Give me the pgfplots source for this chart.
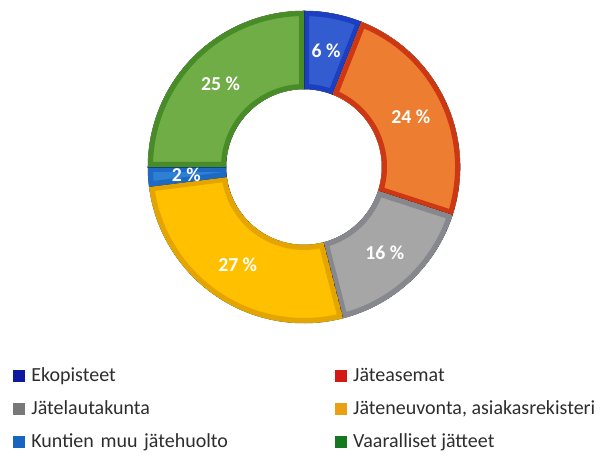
\documentclass[border=0pt]{standalone}
\usepackage{pgfplots}
\pgfplotsset{compat=1.18}
\usepackage{fontspec}
\setmainfont{Carlito}

% segment fills and borders
\definecolor{f0}{RGB}{50,92,208}
\definecolor{b0}{RGB}{28,62,192}
\definecolor{f1}{RGB}{237,125,49}
\definecolor{b1}{RGB}{205,55,20}
\definecolor{f2}{RGB}{166,166,166}
\definecolor{b2}{RGB}{134,136,142}
\definecolor{f3}{RGB}{255,192,0}
\definecolor{b3}{RGB}{228,165,0}
\definecolor{f4}{RGB}{45,128,210}
\definecolor{b4}{RGB}{30,105,195}
\definecolor{f5}{RGB}{112,173,71}
\definecolor{b5}{RGB}{72,140,40}
% legend colours
\definecolor{l0}{RGB}{15,25,160}
\definecolor{l1}{RGB}{210,25,20}
\definecolor{l2}{RGB}{120,120,120}
\definecolor{l3}{RGB}{235,160,20}
\definecolor{l4}{RGB}{25,100,190}
\definecolor{l5}{RGB}{20,120,30}
\definecolor{legtext}{RGB}{45,45,45}

\pgfdeclareplotmark{nothing}{}

\pgfplotsset{
  seg/.style 2 args={
    scatter, only marks, mark=nothing, forget plot,
    point meta=y,
    visualization depends on={rawx\as\st},
    visualization depends on={rawy\as\val},
    x filter/.expression={304},
    y filter/.expression={290},
    scatter/@pre marker code/.code={%
      \pgfmathsetmacro\aA{90-3.6*\st}%
      \pgfmathsetmacro\aB{90-3.6*(\st+\val)}%
      \pgfmathsetmacro\aM{(\aA+\aB)/2}%
      \pgfmathtruncatemacro\vi{\val}%
      \begin{scope}
        \clip (\aA:58.5pt) arc[start angle=\aA, end angle=\aB, radius=58.5pt] -- (\aB:117pt) arc[start angle=\aB, end angle=\aA, radius=117pt] -- cycle;
        \fill[#1, fill opacity=1] (\aA:58.5pt) arc[start angle=\aA, end angle=\aB, radius=58.5pt] -- (\aB:117pt) arc[start angle=\aB, end angle=\aA, radius=117pt] -- cycle;
        \draw[#2, draw opacity=1, line width=7.5pt, line join=miter] (\aA:58.5pt) arc[start angle=\aA, end angle=\aB, radius=58.5pt] -- (\aB:117pt) arc[start angle=\aB, end angle=\aA, radius=117pt] -- cycle;
      \end{scope}
      \node[text=white, text opacity=1, font=\bfseries\fontsize{14.8}{17}\selectfont] at (\aM:88.5pt) {\vi\ \%};
    },
    scatter/@post marker code/.code={},
  },
}

\begin{document}
\begin{tikzpicture}
\begin{axis}[
  width=450pt, height=342.75pt, scale only axis,
  xmin=0, xmax=600, ymin=0, ymax=457,
  hide axis, clip=false,
  legend columns=2,
  legend image code/.code={\fill[#1] (0pt,-4.5pt) rectangle (9pt,4.5pt);},
  legend style={draw=none, fill=none, inner sep=0pt, outer sep=0pt,
    at={(axis cs:13,90.5)}, anchor=north west,
    row sep=10.25pt,
    font=\fontsize{15}{18}\selectfont, text=legtext,
    nodes={inner sep=0pt, outer sep=0pt, text height=11pt, text depth=3.5pt, anchor=west},
    /tikz/every odd column/.append style={column sep=4.8pt},
    /tikz/column 2/.append style={nodes={text width=227.5pt}},
  },
]
\path (rel axis cs:0,0) rectangle (rel axis cs:1,1);
% (cumulative share before the item, share of the item in %)
\addplot[seg={f0}{b0}] coordinates {(0,6)};   % Ekopisteet
\addplot[seg={f1}{b1}] coordinates {(6,24)};  % Jäteasemat
\addplot[seg={f2}{b2}] coordinates {(30,16)}; % Jätelautakunta
\addplot[seg={f3}{b3}] coordinates {(46,27)}; % Jäteneuvonta, asiakasrekisteri
\addplot[seg={f4}{b4}] coordinates {(73,2)};  % Kuntien muu jätehuolto
\addplot[seg={f5}{b5}] coordinates {(75,25)}; % Vaaralliset jätteet

\addlegendimage{fill=l0, draw=none}
\addlegendentry{Ekopisteet}
\addlegendimage{fill=l1, draw=none}
\addlegendentry{Jäteasemat}
\addlegendimage{fill=l2, draw=none}
\addlegendentry{Jätelautakunta}
\addlegendimage{fill=l3, draw=none}
\addlegendentry{Jäteneuvonta, asiakasrekisteri}
\addlegendimage{fill=l4, draw=none}
\addlegendentry{Kuntien muu jätehuolto}
\addlegendimage{fill=l5, draw=none}
\addlegendentry{Vaaralliset jätteet}
\end{axis}
\end{tikzpicture}
\end{document}
